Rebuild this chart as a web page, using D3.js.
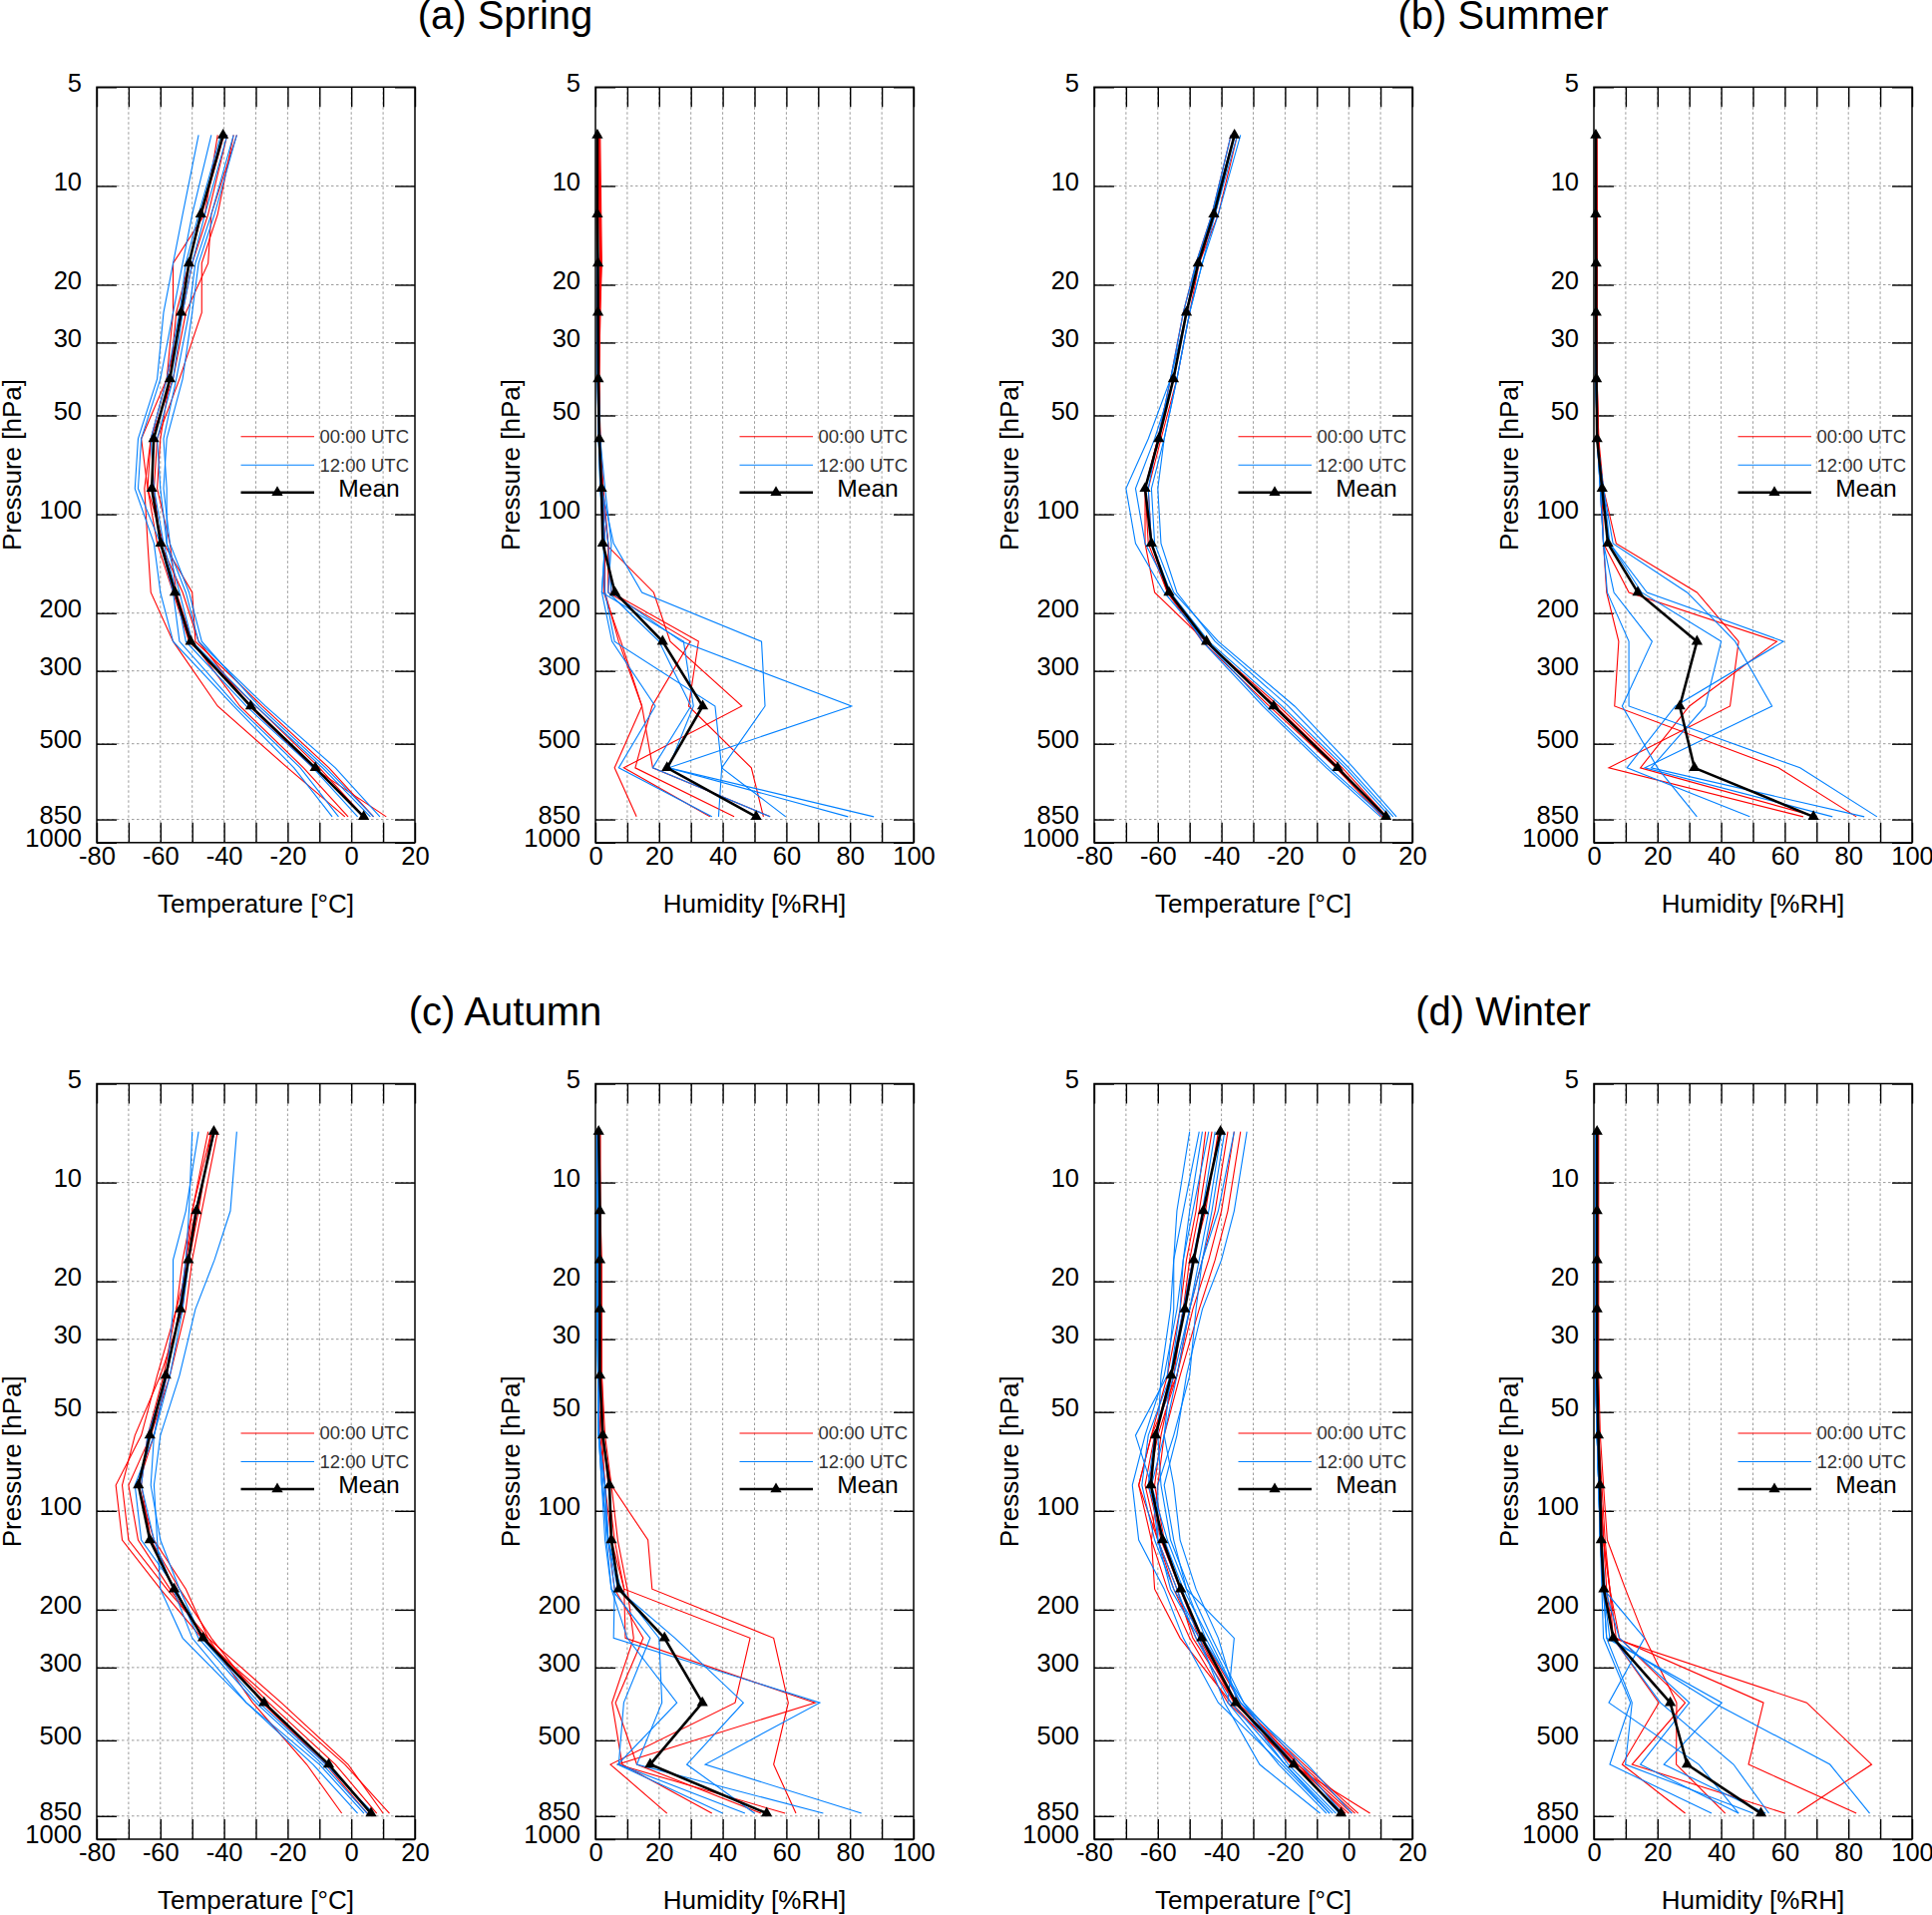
<!DOCTYPE html>
<html>
<head>
<meta charset="utf-8">
<script src="https://cdn.jsdelivr.net/npm/d3@7"></script>
<style>
  body { margin: 0; background: #fff; }
  text { font-family: "Liberation Sans", Arial, sans-serif; }
</style>
</head>
<body>
<div id="chart"></div>
<script>
// pressure levels [hPa] used by every profile
const levels = [7, 12.2, 17.2, 24.3, 38.7, 58.9, 83.5, 122.7, 173, 244, 384, 592, 834];
const pressureTicks = [5, 10, 20, 30, 50, 100, 200, 300, 500, 850, 1000];
const tempTicks = [-80, -60, -40, -20, 0, 20];
const humTicks = [0, 20, 40, 60, 80, 100];
const seasonTitles = ["(a) Spring", "(b) Summer", "(c) Autumn", "(d) Winter"];
const legendLabels = ["00:00 UTC", "12:00 UTC", "Mean"];

// ---- Spring
const springTempMean = [-40.3, -47.3, -51.0, -53.5, -57.0, -62.1, -62.7, -59.9, -55.4, -50.5, -31.6, -11.3, 3.9];
const springTemp00 = [
  [-42, -46, -56, -56, -58, -63, -65, -64, -63, -56, -42, -20, -2],
  [-37, -42, -47, -47, -54, -61, -62, -60, -53, -48, -32, -12, 11],
  [-36, -44, -45, -52, -56, -63, -64, -59, -50, -49, -28, -7, 7],
  [-40, -47, -51, -55, -57, -60, -61, -57, -55, -50, -35, -15, -1],
  [-39, -45, -50, -53, -58, -66, -64, -61, -56, -51, -30, -10, 4],
];
const springTemp12 = [
  [-48, -53, -56, -59, -61, -67, -68, -62, -60, -56, -37, -18, -6],
  [-44, -50, -53, -56, -60, -66, -67, -60, -56, -54, -36, -16, -4],
  [-41, -48, -52, -54, -58, -63, -62, -59, -55, -52, -33, -12, 2],
  [-39, -46, -50, -53, -56, -61, -60, -58, -54, -50, -30, -9, 6],
  [-37, -44, -49, -51, -55, -59, -58, -58, -52, -48, -27, -5, 9],
  [-36, -43, -48, -50, -53, -58, -59, -57, -51, -47, -29, -8, 7],
];
const springHumMean = [0.6, 0.6, 0.8, 0.8, 0.9, 1.2, 1.9, 2.3, 6.1, 21.1, 33.7, 22.5, 50.5];
const springHum00 = [
  [1.2, 1.2, 1.5, 1.2, 1, 1.5, 2, 3, 3, 7.3, 14.6, 6, 12.9],
  [1.5, 1.8, 2, 1.5, 1.2, 1.5, 2, 3, 18.3, 23.5, 46, 8.9, 36],
  [1, 1.5, 1.5, 1.2, 1, 1.2, 2, 4, 4, 29.8, 17.8, 12.5, 43.6],
  [1.2, 1.5, 1.8, 1.5, 1.2, 1.5, 2.5, 4, 5, 32.4, 29.3, 49, 52.8],
  [1, 1.2, 1.5, 1, 1, 1.2, 2, 3, 2.6, 8, 14.6, 18, 54.9],
];
const springHum12 = [
  [0.5, 0.5, 0.6, 0.6, 0.8, 1, 2, 5.7, 14.6, 52.2, 53.3, 39.7, 59.8],
  [0.5, 0.5, 0.5, 0.5, 0.6, 1, 1.5, 3, 2, 5.2, 18.8, 7.3, 36.6],
  [0.5, 0.5, 0.5, 0.6, 0.8, 1.5, 2, 3, 2, 27.7, 30.8, 23, 79.4],
  [0.5, 0.5, 0.6, 0.6, 0.8, 1, 2, 4, 5, 27, 80.5, 23, 87.5],
  [0.5, 0.5, 0.5, 0.5, 0.6, 1, 1.5, 2.5, 3, 6, 37.6, 39.7, 38.7],
  [0.5, 0.5, 0.6, 0.6, 1, 1.5, 3, 5, 4, 20, 30, 18, 54.9],
];

// ---- Summer
const summerTempMean = [-35.9, -42.4, -47.3, -51.0, -55.1, -59.7, -64.0, -62.0, -56.5, -44.7, -23.6, -3.5, 11.7];
const summerTemp00 = [
  [-36, -42, -47, -51, -55, -60, -64, -64, -61, -45, -23, -3, 11],
  [-35, -41, -47, -50, -54, -59, -63, -62, -57, -45, -22, -2, 12],
  [-37, -43, -48, -52, -56, -60, -64, -63, -57, -46, -25, -4, 10.5],
];
const summerTemp12 = [
  [-37, -43, -47, -51, -56, -63, -70, -67, -58, -45, -26, -6, 11],
  [-34, -41, -46, -50, -54, -58, -60, -59, -54, -42, -19, 0, 14],
  [-36, -42, -48, -51, -55, -61, -67, -64, -56, -44, -21, -1, 13],
  [-35, -42, -46, -50, -54, -58, -62, -61, -55, -41, -17, 1.5, 15],
  [-36, -43, -48, -52, -56, -60, -63, -62, -56, -46, -27, -7, 10],
];
const summerHumMean = [0.6, 0.6, 0.7, 0.7, 0.8, 1.0, 2.6, 4.4, 13.8, 32.4, 27, 31.6, 69];
const summerHum00 = [
  [0.8, 1, 1, 1, 1, 1.5, 3, 7, 32.4, 45.5, 42.8, 4.7, 65.8],
  [0.8, 1, 1, 1, 1, 1.2, 2.5, 3, 11, 57.5, 30, 14.6, 70],
  [1, 1, 1, 1, 1, 1.5, 2, 3, 4, 7.8, 6.5, 58, 82.5],
];
const summerHum12 = [
  [0.5, 0.5, 0.5, 0.5, 0.6, 1, 2, 5, 16.7, 59.6, 25.6, 10.4, 49],
  [0.5, 0.5, 0.5, 0.5, 0.6, 1, 3, 6, 29.3, 44.4, 56, 16, 75],
  [0.5, 0.5, 0.5, 0.5, 0.6, 1, 2, 3, 4.2, 11, 11, 64.8, 89],
  [0.5, 0.5, 0.5, 0.5, 0.6, 1, 2, 3, 6.3, 18.3, 8.9, 20, 32.4],
  [0.5, 0.5, 0.5, 0.5, 0.6, 1, 3, 5, 15, 40, 35, 18, 85],
];

// ---- Autumn
const autumnTempMean = [-43.2, -48.7, -51.2, -53.7, -58.3, -63.3, -66.9, -63.3, -55.7, -46.6, -27.4, -7.1, 6.2];
const autumnTemp00 = [
  [-44, -50, -53, -55, -61, -66, -74, -72, -60, -47, -24, -2, 12],
  [-43, -49, -52, -53, -60, -68, -72, -70, -58, -45, -22, -1, 10],
  [-42, -47, -50, -52, -57, -63, -70, -67, -57, -46, -26, -5, 8],
  [-44, -48, -51, -55, -59, -64, -66, -63, -54, -44, -28, -8, 5],
  [-45, -50, -52, -54, -58, -62, -67, -62, -52, -45, -31, -14, -3],
];
const autumnTemp12 = [
  [-36, -38, -43, -49, -54, -60, -62, -61, -60, -53, -33, -10, 4],
  [-48, -52, -56, -56, -58, -62, -68, -66, -55, -48, -30, -9, 5],
  [-50, -51, -52, -54, -58, -64, -66, -62, -56, -50, -33, -12, 2],
  [-43, -49, -51, -53, -57, -62, -63, -60, -54, -47, -29, -8, 7],
];
const autumnHumMean = [1.0, 1.4, 1.4, 1.4, 1.4, 2.3, 4.4, 5.0, 7.3, 21.7, 33.6, 17.2, 53.8];
const autumnHum00 = [
  [1.5, 1.5, 2, 2, 2, 3, 5, 16.5, 17.8, 56, 60.6, 56, 63],
  [1.5, 1.5, 1.5, 1.5, 2, 2.5, 4, 6, 9, 48.6, 43.9, 4.7, 22.5],
  [1, 1.2, 1.2, 1.2, 1.5, 2, 5, 7, 10, 12, 5.2, 8.4, 36.6],
  [1, 1.2, 1.2, 1.2, 1.5, 2, 3, 5, 9, 9.4, 69, 7, 59.6],
  [1, 1, 1, 1, 1, 1.5, 3, 4, 6, 15, 6.3, 13, 52],
];
const autumnHum12 = [
  [0.5, 0.6, 0.6, 0.6, 0.8, 1, 3, 4, 6, 5.7, 70.5, 34.5, 83.6],
  [0.5, 0.6, 0.6, 0.6, 0.8, 1, 2, 3, 5, 17.2, 8.9, 7.3, 47],
  [0.5, 0.6, 0.6, 0.6, 0.8, 1, 2, 4, 7, 25, 46.5, 28.7, 50],
  [0.5, 0.6, 0.6, 0.6, 0.8, 1, 3, 4, 8, 20, 20.9, 13, 71.6],
  [0.5, 0.6, 0.6, 0.6, 0.8, 1.2, 2.5, 3.5, 5, 10, 25.6, 7, 40],
];

// ---- Winter
const winterTempMean = [-40.3, -45.7, -48.7, -51.5, -55.8, -60.7, -62.2, -58.5, -52.8, -46.2, -35.5, -17.3, -2.4];
const winterTemp00 = [
  [-38, -42, -46, -50, -54, -62, -66, -62, -57, -50, -38, -17, 0],
  [-36, -40, -44, -49, -54, -60, -63, -59, -53, -47, -36, -15, 2],
  [-41, -45, -49, -52, -56, -61, -64, -60, -55, -48, -35, -14, 3],
  [-43, -47, -50, -52, -55, -59, -61, -58, -53, -46, -34, -16, -1],
  [-34, -38, -42, -47, -53, -58, -60, -62, -61, -53, -37, -18, 6.7],
  [-45, -48, -51, -53, -57, -62, -66, -60, -54, -49, -36, -16, 1],
];
const winterTemp12 = [
  [-50, -54, -55, -55, -57, -67, -62, -60, -54, -48, -37, -20, -5],
  [-47, -52, -55, -56, -59, -60, -59, -56, -50, -43, -33, -19, -4],
  [-44, -49, -52, -53, -56, -58, -55, -53, -48, -41, -35, -20, -6],
  [-32, -36, -40, -46, -51, -54, -58, -55, -51, -36, -38, -22, -7],
  [-39, -43, -46, -48, -50, -55, -60, -60, -56, -47, -39, -28, -9],
  [-42, -46, -49, -52, -56, -63, -65, -61, -55, -46, -33, -15, -2],
  [-36, -41, -46, -50, -55, -61, -63, -58, -52, -44, -34, -17, -3],
  [-46, -50, -52, -54, -58, -64, -68, -66, -58, -52, -41, -21, -6],
  [-40, -44, -47, -50, -54, -58, -62, -57, -51, -45, -34, -13, 1],
];
const winterHumMean = [1.0, 1.0, 1.0, 1.0, 1.0, 1.4, 1.9, 2.3, 3.1, 6.1, 24, 29.3, 52.5];
const winterHum00 = [
  [1.5, 1.5, 1.5, 1.5, 1.5, 2, 3, 4.2, 9.9, 16, 26, 25.9, 41.3],
  [1.2, 1.2, 1.2, 1.2, 1.2, 1.5, 2, 3, 5, 6, 66.9, 87.3, 64],
  [1.2, 1.2, 1.2, 1.2, 1.2, 1.5, 2, 3, 5, 7, 53.3, 48.6, 82.5],
  [1, 1, 1, 1, 1, 1.5, 2, 3, 4, 6, 20.4, 8.9, 28.7],
  [1, 1, 1, 1, 1, 1.5, 2.5, 3.5, 5, 8, 28.7, 12, 60],
];
const winterHum12 = [
  [0.5, 0.5, 0.5, 0.5, 0.5, 1, 1.5, 2, 3, 15.9, 4.7, 33, 45.5],
  [0.5, 0.5, 0.5, 0.5, 0.5, 1, 1.5, 2, 3, 5, 37.6, 74.2, 86.7],
  [0.5, 0.5, 0.5, 0.5, 0.5, 1, 1.5, 2, 3, 4, 40.2, 22, 54],
  [0.5, 0.5, 0.5, 0.5, 0.5, 1, 1.5, 2, 2.5, 3, 11.5, 5, 37],
  [0.5, 0.5, 0.5, 0.5, 0.5, 1, 1.5, 2, 3, 6, 20.9, 43.9, 55],
  [0.5, 0.5, 0.5, 0.5, 0.5, 1, 2, 2.5, 3.5, 8, 30, 14.6, 45.5],
  [0.5, 0.5, 0.5, 0.5, 0.5, 1, 1.5, 2, 3, 4, 12, 9.9, 50],
];

const width = 1937;
const height = 1920;
const colLeft = [97, 597, 1097, 1598];
const rowTop = [87.3, 1086.5];
const pw = 319;
const ph = 757.5;
const RED = "#ff0000";
const BLUE = "#0080ff";
const FONT = '"Liberation Sans", Arial, sans-serif';

const svg = d3
  .select("#chart")
  .append("svg")
  .attr("width", width)
  .attr("height", height)
  .style("display", "block");

svg.append("rect").attr("width", width).attr("height", height).attr("fill", "#fff");

function drawPanel(left, top, kind, mean, runs00, runs12) {
  const isTemp = kind === "temp";
  const x = d3
    .scaleLinear()
    .domain(isTemp ? [-80, 20] : [0, 100])
    .range([left, left + pw]);
  const y = d3.scaleLog().domain([5, 1000]).range([top, top + ph]);
  const g = svg.append("g");
  const [lo, hi] = x.domain();
  const xMinor = d3.range(lo, hi + 1, 10);
  const labels = isTemp ? tempTicks : humTicks;

  // dotted grid
  g.append("g")
    .selectAll("line")
    .data(xMinor.slice(1, -1))
    .enter()
    .append("line")
    .attr("x1", (d) => x(d))
    .attr("x2", (d) => x(d))
    .attr("y1", top)
    .attr("y2", top + ph)
    .attr("stroke", "#9a9a9a")
    .attr("stroke-width", 1)
    .attr("stroke-dasharray", "2.5,2.5");
  g.append("g")
    .selectAll("line")
    .data(pressureTicks.slice(1, -1))
    .enter()
    .append("line")
    .attr("x1", left)
    .attr("x2", left + pw)
    .attr("y1", (d) => y(d))
    .attr("y2", (d) => y(d))
    .attr("stroke", "#9a9a9a")
    .attr("stroke-width", 1)
    .attr("stroke-dasharray", "2.5,2.5");

  // axes, ticks pointing inward
  const axes = [
    g.append("g")
      .attr("transform", `translate(0,${top + ph})`)
      .call(
        d3.axisBottom(x).tickValues(xMinor).tickSize(-20).tickSizeOuter(0).tickPadding(4)
          .tickFormat((d) => (labels.includes(d) ? String(d) : ""))
      ),
    g.append("g")
      .attr("transform", `translate(0,${top})`)
      .call(d3.axisTop(x).tickValues(xMinor).tickSize(-20).tickSizeOuter(0).tickFormat("")),
    g.append("g")
      .attr("transform", `translate(${left},0)`)
      .call(
        d3.axisLeft(y).tickValues(pressureTicks).tickSize(-20).tickSizeOuter(0).tickPadding(15)
          .tickFormat((d) => String(d))
      ),
    g.append("g")
      .attr("transform", `translate(${left + pw},0)`)
      .call(d3.axisRight(y).tickValues(pressureTicks).tickSize(-20).tickSizeOuter(0).tickFormat("")),
  ];
  axes.forEach((a) => {
    a.attr("font-size", 25.5).attr("font-family", FONT);
    a.select(".domain").remove();
    a.selectAll(".tick line").attr("stroke", "#000").attr("stroke-width", 1.4);
    a.selectAll(".tick text").attr("fill", "#000");
  });
  axes[2].selectAll(".tick text").attr("dy", "0.15em");

  // frame
  g.append("rect")
    .attr("x", left)
    .attr("y", top)
    .attr("width", pw)
    .attr("height", ph)
    .attr("fill", "none")
    .attr("stroke", "#000")
    .attr("stroke-width", 1.5);

  // profiles
  const line = d3
    .line()
    .x((d) => x(d[1]))
    .y((d) => y(d[0]));
  const pairs = (vals) => levels.map((p, i) => [p, vals[i]]);

  g.append("g")
    .selectAll("path")
    .data(runs00)
    .enter()
    .append("path")
    .attr("d", (d) => line(pairs(d)))
    .attr("fill", "none")
    .attr("stroke", RED)
    .attr("stroke-width", 1.1);
  g.append("g")
    .selectAll("path")
    .data(runs12)
    .enter()
    .append("path")
    .attr("d", (d) => line(pairs(d)))
    .attr("fill", "none")
    .attr("stroke", BLUE)
    .attr("stroke-width", 1.1);
  g.append("path")
    .attr("d", line(pairs(mean)))
    .attr("fill", "none")
    .attr("stroke", "#000")
    .attr("stroke-width", 2.6);
  g.append("g")
    .selectAll("path")
    .data(pairs(mean))
    .enter()
    .append("path")
    .attr("d", d3.symbol(d3.symbolTriangle, 55))
    .attr("transform", (d) => `translate(${x(d[1])},${y(d[0])})`)
    .attr("fill", "#000");

  // legend
  const lg = g.append("g").attr("transform", `translate(${left},${top})`);
  const rows = [
    { y: 350.5, color: RED, w: 1.1 },
    { y: 379, color: BLUE, w: 1.1 },
    { y: 406.5, color: "#000", w: 2.6 },
  ];
  rows.forEach((r, i) => {
    lg.append("line")
      .attr("x1", 144.5)
      .attr("x2", 218)
      .attr("y1", r.y)
      .attr("y2", r.y)
      .attr("stroke", r.color)
      .attr("stroke-width", r.w);
    if (i < 2) {
      lg.append("text")
        .attr("x", 313)
        .attr("y", r.y + 6.3)
        .attr("text-anchor", "end")
        .attr("font-size", 18.5)
        .attr("fill", "#333")
        .text(legendLabels[i]);
    } else {
      lg.append("path")
        .attr("d", d3.symbol(d3.symbolTriangle, 55))
        .attr("transform", `translate(181,${r.y})`)
        .attr("fill", "#000");
      lg.append("text")
        .attr("x", 273)
        .attr("y", 410.5)
        .attr("text-anchor", "middle")
        .attr("font-size", 24.6)
        .attr("fill", "#000")
        .text(legendLabels[i]);
    }
  });

  // axis titles
  g.append("text")
    .attr("x", left + pw / 2)
    .attr("y", top + ph + 70)
    .attr("text-anchor", "middle")
    .attr("font-size", 26)
    .text(isTemp ? "Temperature [°C]" : "Humidity [%RH]");
  g.append("text")
    .attr("transform", `translate(${left - 76},${top + ph / 2}) rotate(-90)`)
    .attr("text-anchor", "middle")
    .attr("font-size", 26)
    .text("Pressure [hPa]");
}

const seasons = [
  [springTempMean, springTemp00, springTemp12, springHumMean, springHum00, springHum12],
  [summerTempMean, summerTemp00, summerTemp12, summerHumMean, summerHum00, summerHum12],
  [autumnTempMean, autumnTemp00, autumnTemp12, autumnHumMean, autumnHum00, autumnHum12],
  [winterTempMean, winterTemp00, winterTemp12, winterHumMean, winterHum00, winterHum12],
];

seasons.forEach((s, i) => {
  const row = Math.floor(i / 2);
  const c = (i % 2) * 2;
  const top = rowTop[row];
  drawPanel(colLeft[c], top, "temp", s[0], s[1], s[2]);
  drawPanel(colLeft[c + 1], top, "hum", s[3], s[4], s[5]);
  svg.append("text")
    .attr("x", (colLeft[c] + colLeft[c + 1] + pw) / 2)
    .attr("y", top - 58.3)
    .attr("text-anchor", "middle")
    .attr("font-size", 40)
    .attr("fill", "#000")
    .text(seasonTitles[i]);
});
</script>
</body>
</html>
